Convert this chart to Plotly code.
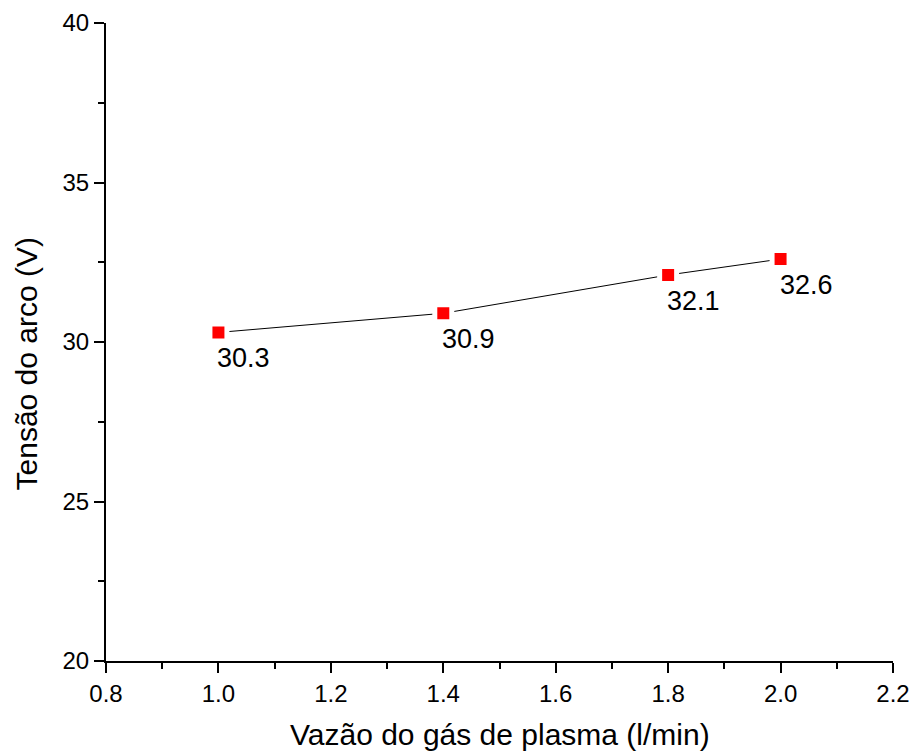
import plotly.graph_objects as go

flow = [1.0, 1.4, 1.8, 2.0]
voltage = [30.3, 30.9, 32.1, 32.6]
labels = ["30.3", "30.9", "32.1", "32.6"]
x_title = "Vazão do gás de plasma (l/min)"
y_title = "Tensão do arco (V)"

FONT = "Liberation Sans, Arial, sans-serif"

fig = go.Figure()
fig.add_trace(go.Scatter(
    x=flow, y=voltage, mode="lines+markers",
    line=dict(color="black", width=1),
    marker=dict(symbol="square", size=17, color="#ff0000",
                line=dict(color="white", width=5)),
    showlegend=False, hoverinfo="x+y",
))

for xv, yv, t in zip(flow, voltage, labels):
    fig.add_annotation(x=xv, y=yv, text=t, showarrow=False,
                       xanchor="left", yanchor="top", yshift=-9, xshift=-3,
                       font=dict(family=FONT, size=27, color="black"))

# axis titles as annotations (positioned like the original)
fig.add_annotation(xref="paper", yref="paper", x=0.5, y=-0.086,
                   xanchor="center", yanchor="top", showarrow=False,
                   text=x_title, font=dict(family=FONT, size=30, color="black"))
fig.add_annotation(xref="paper", yref="paper", x=-0.1004, y=0.4663,
                   xanchor="center", yanchor="middle", showarrow=False, textangle=-90,
                   text=y_title, font=dict(family=FONT, size=30, color="black"))

axis_common = dict(
    showline=True, linecolor="black", linewidth=2,
    ticks="outside", ticklen=10, tickwidth=2, tickcolor="black",
    showgrid=False, zeroline=False, mirror=False, automargin=False,
    ticklabeloverflow="allow",
    tickfont=dict(family=FONT, size=24, color="black"),
    minor=dict(ticks="outside", ticklen=6, tickwidth=2, tickcolor="black", showgrid=False),
)

fig.update_xaxes(range=[0.8, 2.2], dtick=0.2, tick0=0.8, tickformat=".1f", **axis_common)
fig.update_xaxes(minor_dtick=0.1)
fig.update_yaxes(range=[20, 40], dtick=5, tick0=20, **axis_common)
fig.update_yaxes(minor_dtick=2.5)

fig.update_layout(
    width=913, height=756,
    margin=dict(l=106, r=20, t=23, b=95),
    plot_bgcolor="white", paper_bgcolor="white",
)

fig.write_html("out.html")
